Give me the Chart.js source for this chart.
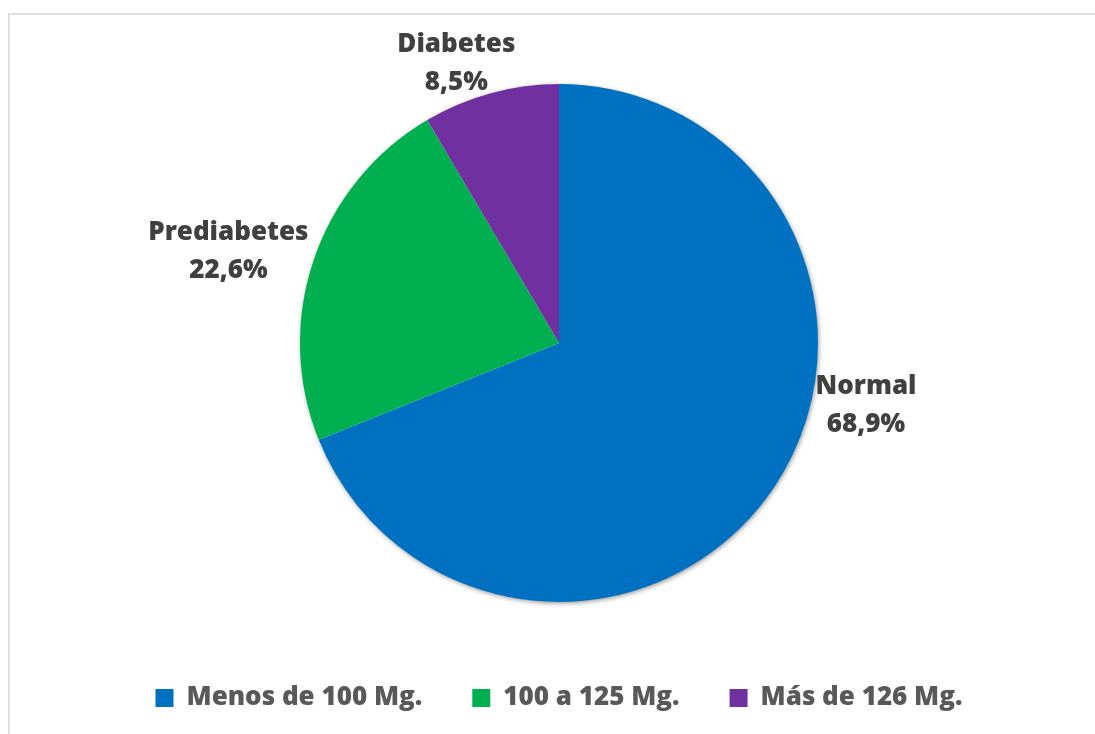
<!DOCTYPE html>
<html>
<head>
<meta charset="utf-8">
<script src="https://cdn.jsdelivr.net/npm/chart.js@4"></script>
<style>
  html, body { margin: 0; padding: 0; background: #ffffff; }
  #wrap { width: 1095px; height: 734px; position: relative; }
</style>
</head>
<body>
<div id="wrap"><canvas id="c" width="1095" height="734"></canvas></div>
<script>
const categories = ["Menos de 100 Mg.", "100 a 125 Mg.", "Más de 126 Mg."];
const sliceNames = ["Normal", "Prediabetes", "Diabetes"];
const values = [68.9, 22.6, 8.5];
const percentLabels = ["68,9%", "22,6%", "8,5%"];
const colors = ["#0070C0", "#00B050", "#7030A0"];

const FONT = "'Open Sans', 'Noto Sans', sans-serif";

// label placement relative to pie centre (angle in degrees, distance as factor of radius)
const labelPlacement = [
  { angle: 10.9, dist: 1.207 },
  { angle: 196.0, dist: 1.328 },
  { angle: 250.0, dist: 1.159 }
];

const framePlugin = {
  id: 'frame',
  beforeDraw(chart) {
    const ctx = chart.ctx;
    ctx.save();
    ctx.strokeStyle = '#d9d9d9';
    ctx.lineWidth = 1.6;
    ctx.strokeRect(8.8, 14, 1200, 800);
    ctx.restore();
  }
};

const shadowPlugin = {
  id: 'pieShadow',
  beforeDatasetsDraw(chart) {
    const arc = chart.getDatasetMeta(0).data[0];
    if (!arc) return;
    const ctx = chart.ctx;
    ctx.save();
    ctx.shadowColor = 'rgba(0,0,0,0.45)';
    ctx.shadowBlur = 5;
    ctx.shadowOffsetX = 1;
    ctx.shadowOffsetY = 1.5;
    ctx.fillStyle = '#ffffff';
    ctx.beginPath();
    ctx.arc(arc.x, arc.y, arc.outerRadius - 0.5, 0, Math.PI * 2);
    ctx.fill();
    ctx.restore();
  }
};

const labelPlugin = {
  id: 'sliceLabels',
  afterDatasetsDraw(chart) {
    const meta = chart.getDatasetMeta(0);
    const ctx = chart.ctx;
    ctx.save();
    ctx.fillStyle = '#404040';
    ctx.font = "800 26px " + FONT;
    ctx.textAlign = 'center';
    ctx.textBaseline = 'middle';
    meta.data.forEach((arc, i) => {
      const p = labelPlacement[i];
      const a = p.angle * Math.PI / 180;
      const cx = arc.x + Math.cos(a) * arc.outerRadius * p.dist;
      const cy = arc.y + Math.sin(a) * arc.outerRadius * p.dist + 3;
      ctx.fillText(sliceNames[i], cx, cy - 19);
      ctx.fillText(percentLabels[i], cx, cy + 19);
    });
    ctx.restore();
  }
};

new Chart(document.getElementById('c'), {
  type: 'pie',
  data: {
    labels: categories,
    datasets: [{
      data: values,
      backgroundColor: colors,
      borderWidth: 0,
      radius: 259
    }]
  },
  options: {
    responsive: false,
    animation: false,
    layout: { padding: { top: 51, bottom: 13, left: 30, right: 7 } },
    plugins: {
      legend: {
        position: 'bottom',
        labels: {
          boxWidth: 18,
          boxHeight: 18,
          padding: 50,
          color: '#595959',
          font: { family: FONT, size: 26, weight: '800' }
        }
      },
      tooltip: { enabled: false }
    }
  },
  plugins: [framePlugin, shadowPlugin, labelPlugin]
});
</script>
</body>
</html>
